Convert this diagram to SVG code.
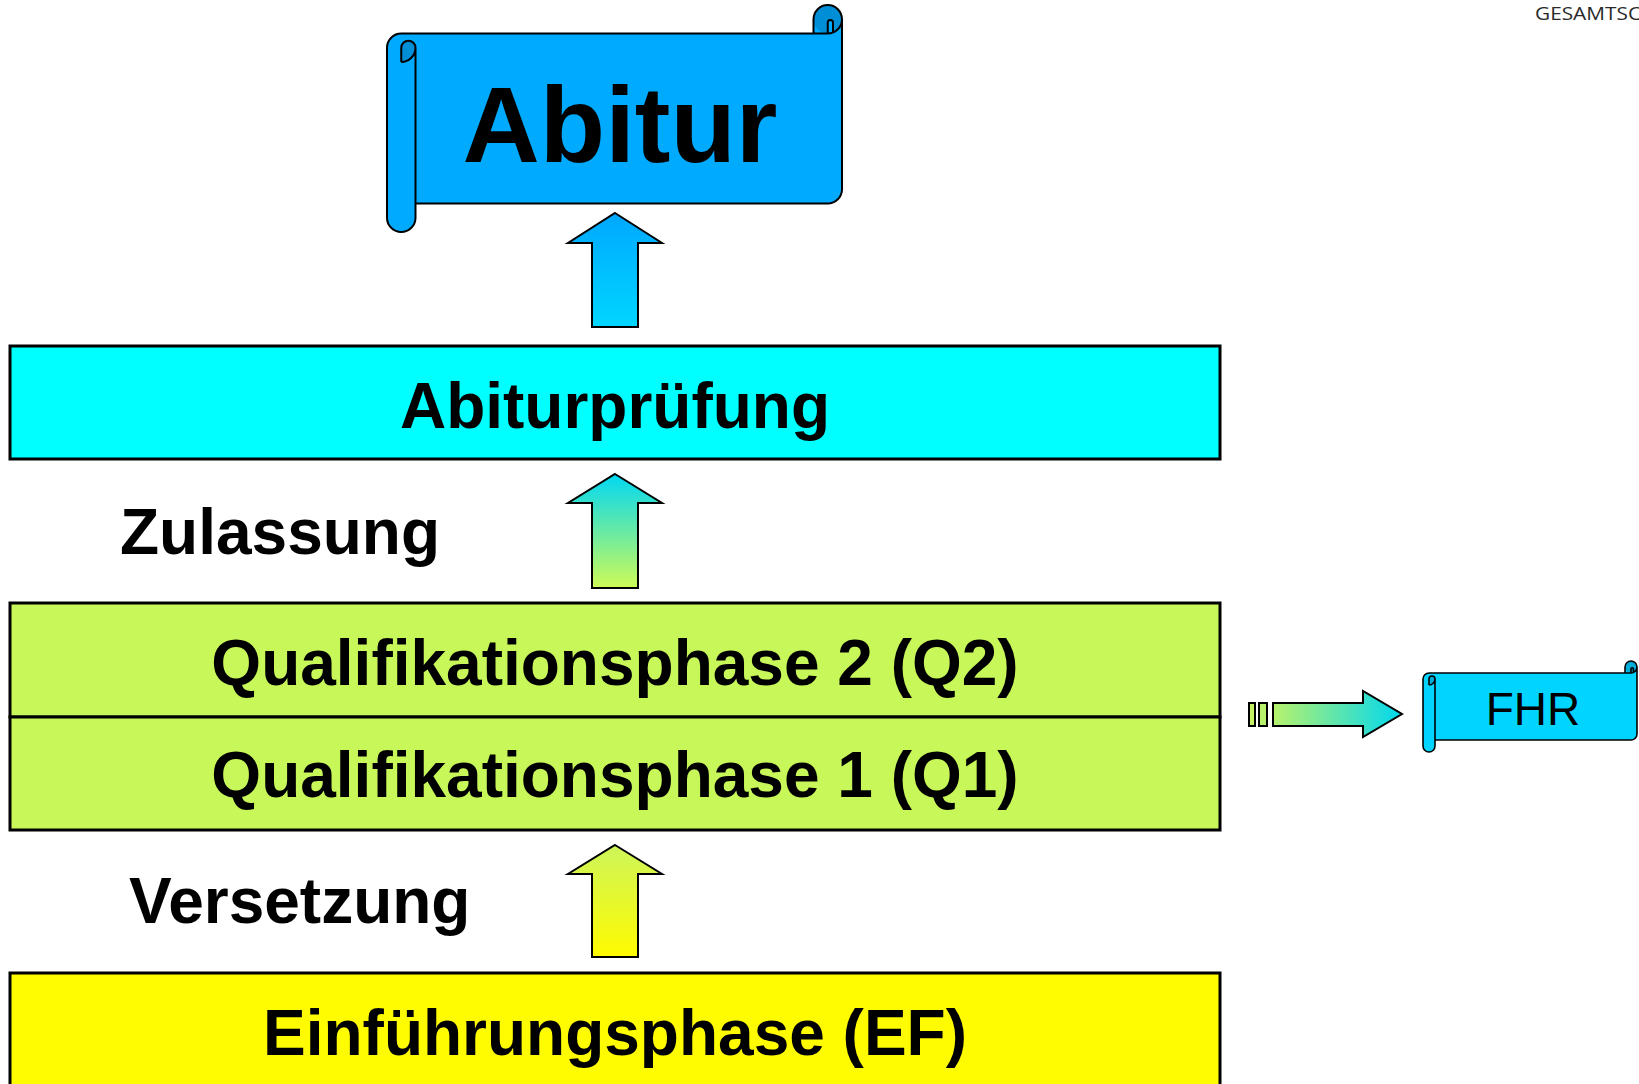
<svg xmlns="http://www.w3.org/2000/svg" width="1639" height="1084" viewBox="0 0 1639 1084">
<defs>
<linearGradient id="g1" x1="0" y1="0" x2="0" y2="1"><stop offset="0" stop-color="#00a8ff"/><stop offset="1" stop-color="#00d6ff"/></linearGradient>
<linearGradient id="g2" x1="0" y1="0" x2="0" y2="1"><stop offset="0" stop-color="#00d8f4"/><stop offset="1" stop-color="#cefb56"/></linearGradient>
<linearGradient id="g3" x1="0" y1="0" x2="0" y2="1"><stop offset="0" stop-color="#cdf55a"/><stop offset="1" stop-color="#fffb00"/></linearGradient>
<linearGradient id="g4" x1="0" y1="0" x2="1" y2="0"><stop offset="0" stop-color="#b8f26c"/><stop offset="1" stop-color="#00d8f0"/></linearGradient>
</defs>
<style>
.box{stroke:#000;stroke-width:3}
.bt{font-family:"Liberation Sans",Arial,sans-serif;font-weight:bold;font-size:64px;fill:#000}
.arr{stroke:#000;stroke-width:2;stroke-linejoin:miter}
.ol{fill:none;stroke:#000;stroke-linejoin:round}
</style>
<rect width="1639" height="1084" fill="#fff"/>
<text x="1535" y="20" font-family="'Open Sans',sans-serif" font-size="19" fill="#2a2a2a" textLength="106" lengthAdjust="spacingAndGlyphs">GESAMTSC</text>

<g id="abitur">
<path fill="#00aaff" d="M401.25,33.5 L813.5,33.5 L813.5,19.25 L842,19.25 L842,189.25 A14.25,14.25 0 0 1 827.75,203.5 L415.5,203.5 L415.5,217.75 A14.25,14.25 0 0 1 387,217.75 L387,47.75 A14.25,14.25 0 0 1 401.25,33.5 Z"/>
<path fill="#008ed6" d="M401.25,62 A14.25,14.25 0 0 0 415.5,47.75 A7.125,7.125 0 0 0 401.25,47.75 Z"/>
<circle cx="827.75" cy="19.25" r="14.25" fill="#008ed6"/>
<path fill="#00aaff" d="M827.75,33.5 L827.75,22.5 A2.6,2.6 0 0 1 833,22.5 L833,32.6 Z"/>
<path class="ol" stroke-width="2" d="M387,47.75 A14.25,14.25 0 0 1 401.25,33.5 L813.5,33.5 L813.5,19.25 A14.25,14.25 0 0 1 842,19.25 L842,189.25 A14.25,14.25 0 0 1 827.75,203.5 L415.5,203.5 L415.5,217.75 A14.25,14.25 0 0 1 387,217.75 Z M401.25,62 A14.25,14.25 0 0 0 415.5,47.75 M401.25,62 L401.25,47.75 A7.125,7.125 0 0 1 415.5,47.75 L415.5,203.5 M813.5,33.5 L827.75,33.5 A14.25,14.25 0 0 0 842,19.25 M827.75,33.5 L827.75,22.5 A2.6,2.6 0 0 1 833,22.5 L833,32.6"/>
<text x="620" y="162" text-anchor="middle" font-family="'Liberation Sans',Arial,sans-serif" font-weight="bold" font-size="107">Abitur</text>
</g>

<g id="abiturpruefung">
<rect class="box" x="10" y="346" width="1210" height="113" fill="#00ffff"/>
<text class="bt" x="615" y="428" text-anchor="middle">Abiturprüfung</text>
</g>

<g id="q2">
<rect class="box" x="10" y="603" width="1210" height="114" fill="#c8f75a"/>
<text class="bt" x="615" y="685" text-anchor="middle">Qualifikationsphase 2 (Q2)</text>
</g>
<g id="q1">
<rect class="box" x="10" y="717" width="1210" height="113" fill="#c8f75a"/>
<text class="bt" x="615" y="797" text-anchor="middle">Qualifikationsphase 1 (Q1)</text>
</g>

<g id="ef">
<rect class="box" x="10" y="973" width="1210" height="130" fill="#fffb00"/>
<text class="bt" x="615" y="1055" text-anchor="middle">Einführungsphase (EF)</text>
</g>

<g id="fhr">
<path fill="#00d4ff" d="M1429,673 L1625,673 L1625,667 L1637,667 L1637,734 A6,6 0 0 1 1631,740 L1435,740 L1435,746 A6,6 0 0 1 1423,746 L1423,679 A6,6 0 0 1 1429,673 Z"/>
<path fill="#00acd8" d="M1429,685 A6,6 0 0 0 1435,679 A3,3 0 0 0 1429,679 Z"/>
<circle cx="1631" cy="667" r="6" fill="#00acd8"/>
<path class="ol" stroke-width="1.6" d="M1423,679 A6,6 0 0 1 1429,673 L1625,673 L1625,667 A6,6 0 0 1 1637,667 L1637,734 A6,6 0 0 1 1631,740 L1435,740 L1435,746 A6,6 0 0 1 1423,746 Z M1429,685 A6,6 0 0 0 1435,679 M1429,685 L1429,679 A3,3 0 0 1 1435,679 L1435,740 M1625,673 L1631,673 A6,6 0 0 0 1637,667 M1631,673 L1631,669 A1.2,1.2 0 0 1 1633.4,669 L1633.4,672.5"/>
<text x="1533" y="725" text-anchor="middle" font-family="'Liberation Sans',Arial,sans-serif" font-size="46">FHR</text>
</g>

<g id="connectors">
<polygon class="arr" fill="url(#g1)" points="615,213 662,243 638,243 638,327 592,327 592,243 568,243"/>
<polygon class="arr" fill="url(#g2)" points="615,474 662,503 638,503 638,588 592,588 592,503 568,503"/>
<polygon class="arr" fill="url(#g3)" points="615,845 662,874 638,874 638,957 592,957 592,874 568,874"/>
<rect class="arr" x="1249" y="703" width="6" height="23" fill="#c4f262" stroke-width="1.6"/>
<rect class="arr" x="1259" y="703" width="8" height="23" fill="#b8f26c" stroke-width="1.6"/>
<path class="arr" fill="url(#g4)" stroke-width="1.6" d="M1273,703 L1363,703 L1363,691 L1402,714 L1363,737 L1363,726 L1273,726 Z"/>
</g>

<g id="labels">
<text class="bt" x="120" y="554">Zulassung</text>
<text class="bt" x="129" y="923">Versetzung</text>
</g>
</svg>
